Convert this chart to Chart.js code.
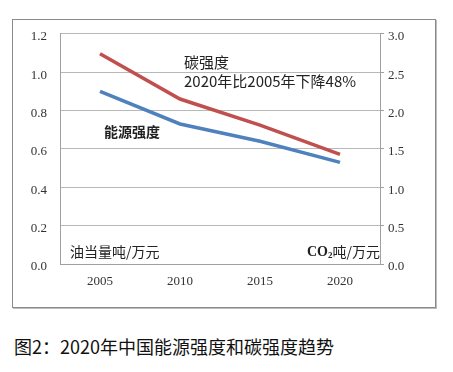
<!DOCTYPE html>
<html>
<head>
<meta charset="utf-8">
<script src="https://cdn.jsdelivr.net/npm/chart.js@4"></script>
<style>
  body { margin: 0; background: #fff; width: 453px; height: 372px; position: relative; overflow: hidden; }
  #box { position: absolute; left: 12px; top: 19px; width: 422px; height: 287px; border: 1px solid #8a8a8a; box-shadow: 1px 1px 0 #bdbdbd; }
  #wrap { position: absolute; left: 0; top: -7px; width: 422px; height: 294px; }
  #caption { position: absolute; left: 14px; top: 333px; font-family: "Noto Sans CJK SC", sans-serif; font-size: 18px; color: #111; white-space: nowrap; }
</style>
</head>
<body>
<div id="box"><div id="wrap"><canvas id="trendChart"></canvas></div></div>
<div id="caption">图2：2020年中国能源强度和碳强度趋势</div>
<script>
// data
const years = ["2005", "2010", "2015", "2020"];
const energyIntensity = [0.90, 0.73, 0.64, 0.53];   // 油当量吨/万元, left axis
const carbonIntensity = [2.74, 2.15, 1.81, 1.43];   // CO2吨/万元, right axis
const leftTicks = [0.0, 0.2, 0.4, 0.6, 0.8, 1.0, 1.2];
const rightTicks = [0.0, 0.5, 1.0, 1.5, 2.0, 2.5, 3.0];

const tickFont = { family: "'Liberation Serif', 'DejaVu Serif', serif", size: 13 };
const cjk = "'Noto Sans CJK SC', sans-serif";

// texts inside the plot
const notes = {
    id: "notes",
    afterDraw(chart) {
        const c = chart.ctx;
        const a = chart.chartArea;
        c.save();
        c.fillStyle = "#222";
        c.textBaseline = "middle";
        c.textAlign = "left";
        c.font = "15px " + cjk;
        c.fillText("碳强度", a.left + 124, a.top + 28);
        c.fillText("2020年比2005年下降48%", a.left + 124, a.top + 47);
        c.font = "bold 14px " + cjk;
        c.fillText("能源强度", a.left + 44, a.top + 98);
        c.font = "14px " + cjk;
        c.fillText("油当量吨/万元", a.left + 10, a.bottom - 12);
        // CO2吨/万元 right aligned
        c.textAlign = "right";
        const tail = "吨/万元";
        const tw = c.measureText(tail).width;
        c.fillText(tail, a.right, a.bottom - 12);
        c.font = "bold 9px 'Liberation Serif', serif";
        const w2 = c.measureText("2").width;
        c.fillText("2", a.right - tw, a.bottom - 8);
        c.font = "bold 14px 'Liberation Serif', serif";
        c.fillText("CO", a.right - tw - w2, a.bottom - 12);
        c.restore();
    }
};

new Chart(document.getElementById("trendChart"), {
    type: "line",
    data: {
        labels: years,
        datasets: [
            {
                label: "能源强度",
                data: energyIntensity,
                borderColor: "#4f81bd",
                borderWidth: 3.5,
                pointRadius: 0,
                tension: 0,
                yAxisID: "y"
            },
            {
                label: "碳强度",
                data: carbonIntensity,
                borderColor: "#c0504d",
                borderWidth: 3.5,
                pointRadius: 0,
                tension: 0,
                yAxisID: "y2"
            }
        ]
    },
    options: {
        responsive: true,
        maintainAspectRatio: false,
        animation: false,
        events: [],
        layout: { padding: { top: 0, left: 0, right: 0, bottom: 0 } },
        plugins: { legend: { display: false }, tooltip: { enabled: false } },
        scales: {
            x: {
                offset: true,
                grid: { display: false },
                border: { display: true, color: "#a0a0a0" },
                ticks: { font: tickFont, color: "#333", padding: 2 },
                afterFit(s) { s.height = 43; }
            },
            y: {
                position: "left",
                min: 0, max: 1.2,
                afterBuildTicks(s) { s.ticks = leftTicks.map(v => ({ value: v })); },
                grid: { color: "#b8b8b8", lineWidth: 1, drawTicks: false },
                border: { display: true, color: "#a0a0a0" },
                ticks: { font: tickFont, color: "#333", padding: 13, labelOffset: 3, callback: v => v.toFixed(1) },
                afterFit(s) { s.width = 47; }
            },
            y2: {
                position: "right",
                min: 0, max: 3.0,
                afterBuildTicks(s) { s.ticks = rightTicks.map(v => ({ value: v })); },
                grid: { drawOnChartArea: false, color: "#a0a0a0", tickLength: 4 },
                border: { display: true, color: "#a0a0a0" },
                ticks: { font: tickFont, color: "#333", padding: 4, labelOffset: 3, callback: v => v.toFixed(1) },
                afterFit(s) { s.width = 55; }
            }
        }
    },
    plugins: [notes]
});
</script>
</body>
</html>
